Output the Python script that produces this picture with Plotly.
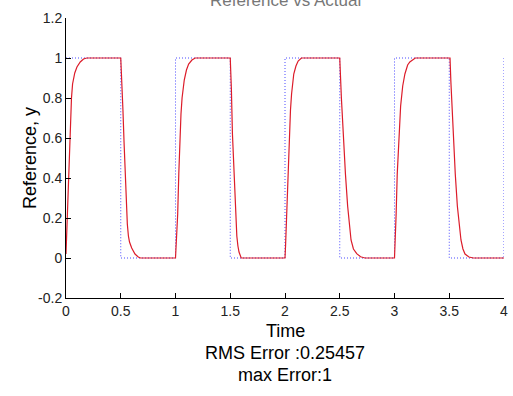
import plotly.graph_objects as go

# Reference square wave (step corners)
t_ref = [0, 0.5, 0.5, 1.0, 1.0, 1.5, 1.5, 2.0, 2.0, 2.5, 2.5, 3.0, 3.0, 3.5, 3.5, 4.0, 4.0]
y_ref = [1, 1, 0, 0, 1, 1, 0, 0, 1, 1, 0, 0, 1, 1, 0, 0, 1]

# Actual response
t_act = [0, 0.005, 0.01, 0.02, 0.03, 0.04, 0.05, 0.06, 0.08, 0.1, 0.13, 0.16, 0.19, 0.5,
         0.505, 0.51, 0.52, 0.53, 0.54, 0.55, 0.56, 0.57, 0.58, 0.6, 0.63, 0.66, 0.68, 1.0,
         1.005, 1.01, 1.02, 1.03, 1.04, 1.05, 1.06, 1.08, 1.1, 1.12, 1.15, 1.18, 1.5,
         1.505, 1.51, 1.52, 1.53, 1.54, 1.55, 1.56, 1.57, 1.58, 1.6, 2.0,
         2.005, 2.015, 2.025, 2.04, 2.05, 2.06, 2.08, 2.1, 2.12, 2.15, 2.5,
         2.515, 2.533, 2.552, 2.572, 2.588, 2.603, 2.625, 2.655, 2.69, 2.73, 3.0,
         3.005, 3.015, 3.025, 3.04, 3.056, 3.075, 3.095, 3.12, 3.14, 3.19, 3.507,
         3.515, 3.525, 3.537, 3.555, 3.574, 3.59, 3.607, 3.625, 3.644, 3.68, 3.72, 4.0]
y_act = [0.02, 0.1, 0.2, 0.38, 0.55, 0.68, 0.8, 0.87, 0.925, 0.955, 0.98, 0.995, 1.0, 1.0,
         0.95, 0.88, 0.74, 0.58, 0.42, 0.28, 0.17, 0.11, 0.08, 0.05, 0.02, 0.005, 0.0, 0.0,
         0.05, 0.1, 0.22, 0.42, 0.6, 0.72, 0.8, 0.89, 0.94, 0.97, 0.99, 1.0, 1.0,
         0.94, 0.85, 0.62, 0.47, 0.31, 0.2, 0.11, 0.06, 0.03, 0.0, 0.0,
         0.06, 0.22, 0.42, 0.62, 0.74, 0.82, 0.92, 0.96, 0.985, 1.0, 1.0,
         0.8, 0.59, 0.42, 0.26, 0.16, 0.09, 0.045, 0.022, 0.006, 0.0, 0.0,
         0.06, 0.22, 0.42, 0.62, 0.76, 0.86, 0.92, 0.965, 0.98, 1.0, 1.0,
         0.88, 0.75, 0.59, 0.42, 0.26, 0.16, 0.09, 0.045, 0.02, 0.005, 0.0, 0.0]

x_ticks = [0, 0.5, 1, 1.5, 2, 2.5, 3, 3.5, 4]
x_tick_labels = ["0", "0.5", "1", "1.5", "2", "2.5", "3", "3.5", "4"]
y_ticks = [-0.2, 0, 0.2, 0.4, 0.6, 0.8, 1, 1.2]
y_tick_labels = ["-0.2", "0", "0.2", "0.4", "0.6", "0.8", "1", "1.2"]

title_text = "Reference vs Actual"
x_label = "Time"
y_label = "Reference, y"
rms_text = "RMS Error :0.25457"
max_text = "max Error:1"

fig = go.Figure()
fig.add_trace(go.Scatter(x=t_ref, y=y_ref, mode="lines",
                         line=dict(color="#4a4aff", width=1, dash="1px,2px"),
                         showlegend=False))
fig.add_trace(go.Scatter(x=t_act, y=y_act, mode="lines",
                         line=dict(color="#dc1c2a", width=1.2),
                         showlegend=False))

font = "Liberation Sans, Arial, sans-serif"
fig.update_layout(
    width=513, height=396,
    margin=dict(l=66, r=9, t=18, b=98, autoexpand=False),
    paper_bgcolor="white", plot_bgcolor="white",
    font=dict(family=font, color="black"),
    showlegend=False,
)
fig.update_xaxes(range=[0, 4], tickvals=x_ticks, ticktext=x_tick_labels,
                 showgrid=False, zeroline=False, showline=True, linecolor="black",
                 linewidth=1, ticks="inside", ticklen=5, tickcolor="black",
                 automargin=False,
                 tickfont=dict(size=14, family=font, color="#222"))
fig.update_yaxes(range=[-0.2, 1.2], tickvals=y_ticks, ticktext=y_tick_labels,
                 showgrid=False, zeroline=False, showline=True, linecolor="black",
                 linewidth=1, ticks="inside", ticklen=5, tickcolor="black",
                 automargin=False,
                 tickfont=dict(size=14, family=font, color="#222"))

anns = [
    dict(text=x_label, x=0.5, y=0, yshift=-33),
    dict(text=rms_text, x=0.5, y=0, yshift=-55),
    dict(text=max_text, x=0.5, y=0, yshift=-77),
]
for a in anns:
    fig.add_annotation(xref="paper", yref="paper", xanchor="center", yanchor="middle",
                       showarrow=False, font=dict(size=18, family=font, color="black"), **a)
fig.add_annotation(text=y_label, xref="paper", yref="paper", x=0, y=0.5, xshift=-36,
                   xanchor="center", yanchor="middle", textangle=-90, showarrow=False,
                   font=dict(size=18, family=font, color="black"))
fig.add_annotation(text=title_text, xref="paper", yref="paper", x=0.5, y=1, yshift=6,
                   xanchor="center", yanchor="bottom", showarrow=False,
                   font=dict(size=17, family=font, color="#777"))

fig.write_html("out.html", config={"displayModeBar": False},
               post_script="document.body.style.margin='0';document.body.style.overflow='hidden';")
